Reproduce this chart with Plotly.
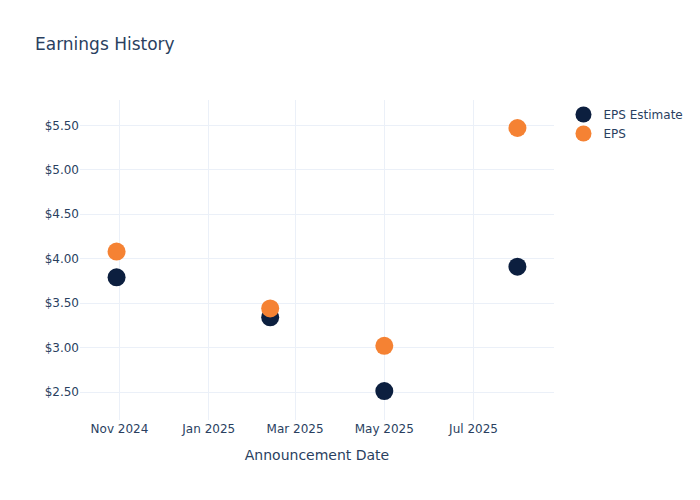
import plotly.graph_objects as go

dates = ["2024-10-30", "2025-02-12", "2025-05-01", "2025-07-31"]
eps_estimate = [3.79, 3.34, 2.51, 3.91]
eps_actual = [4.08, 3.44, 3.02, 5.47]

fig = go.Figure()
fig.add_trace(go.Scatter(x=dates, y=eps_estimate, mode="markers", name="EPS Estimate",
                         marker=dict(size=18, color="#0c1f3f")))
fig.add_trace(go.Scatter(x=dates, y=eps_actual, mode="markers", name="EPS",
                         marker=dict(size=18, color="#f58233")))

fig.update_layout(
    template="plotly_white",
    width=700, height=500,
    font=dict(family="DejaVu Sans"),
    title=dict(text="Earnings History"),
    xaxis=dict(title=dict(text="Announcement Date"), tickformat="%b %Y",
               range=["2024-10-05", "2025-08-25"]),
    yaxis=dict(tickprefix="$", tickformat=".2f", dtick=0.5, range=[2.185, 5.785]),
)
fig.write_html("out.html", config={"displayModeBar": False},
               post_script="document.body.style.margin='0';")
